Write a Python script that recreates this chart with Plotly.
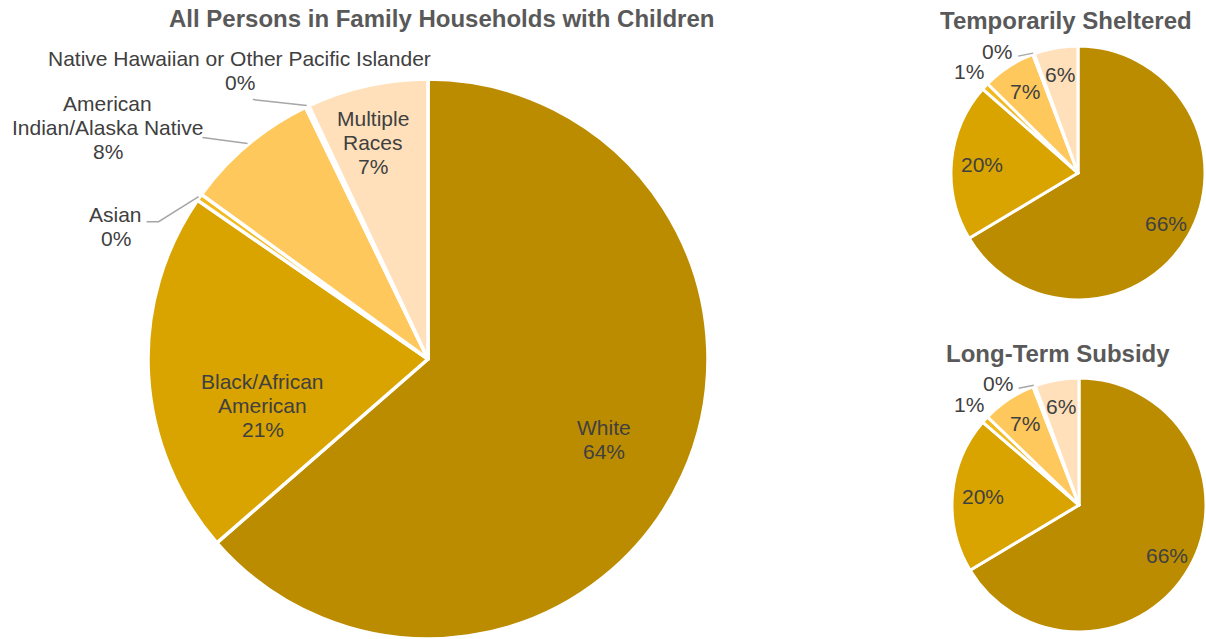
import math
import plotly.graph_objects as go

W, H = 1206, 639

# Race / ethnicity categories, in clockwise order from 12 o'clock
categories = [
    "White",
    "Black/African American",
    "Asian",
    "American Indian/Alaska Native",
    "Native Hawaiian or Other Pacific Islander",
    "Multiple Races",
]

# Share of persons (%) in each category
all_persons = [63.6, 21.0, 0.4, 7.8, 0.2, 7.0]
temporarily_sheltered = [66.4, 20.1, 0.9, 6.8, 0.2, 5.6]
long_term_subsidy = [66.4, 19.9, 0.9, 6.9, 0.3, 5.6]

titles = [
    "All Persons in Family Households with Children",
    "Temporarily Sheltered",
    "Long-Term Subsidy",
]

# ---- styling ----
colors = ["#BC8C00", "#D9A400", "#F2BA1E", "#FFC85C", "#FFD48E", "#FFE0BA"]
FONT = "Liberation Sans, Arial, sans-serif"
LABEL_COLOR = "#404040"
TITLE_COLOR = "#595959"
LEADER_COLOR = "#A6A6A6"
LABEL_SIZE = 21
TITLE_SIZE = 24
LINE_STEP = 24

name_lines = {
    "Black/African American": ["Black/African", "American"],
    "American Indian/Alaska Native": ["American", "Indian/Alaska Native"],
    "Multiple Races": ["Multiple", "Races"],
}

# pie geometry in pixels: centre x, centre y, radius
pies = [
    dict(values=all_persons, cx=428, cy=359, r=280, border=3.5, names=True,
         title=titles[0], title_xy=(441, 19),
         labels=[
             dict(kind="in", rf=0.69, d=(0, 0)),
             dict(kind="in", rf=0.62, d=(8, 37)),
             dict(kind="lead", path=[(-40, 25), (-52, 25)], d=(-83, 30)),
             dict(kind="lead", path=[(-45, -6)], d=(-140, -16)),
             dict(kind="lead", path=[(-54, -6)], d=(-67, -35)),
             dict(kind="in", rf=0.80, d=(-6, 2)),
         ]),
    dict(values=temporarily_sheltered, cx=1078, cy=173, r=127, border=3, names=False,
         title=titles[1], title_xy=(1066, 20),
         labels=[
             dict(kind="in", rf=0.80, d=(0, 0)),
             dict(kind="in", rf=0.76, d=(0, 0)),
             dict(kind="in", rf=1.17, d=(0, 0)),
             dict(kind="in", rf=0.77, d=(0, 0)),
             dict(kind="lead", path=[(-15, 3)], d=(-36, -2)),
             dict(kind="in", rf=0.79, d=(0, 0)),
         ]),
    dict(values=long_term_subsidy, cx=1079, cy=505, r=127, border=3, names=False,
         title=titles[2], title_xy=(1058, 353),
         labels=[
             dict(kind="in", rf=0.80, d=(0, 0)),
             dict(kind="in", rf=0.76, d=(0, 0)),
             dict(kind="in", rf=1.17, d=(0, 0)),
             dict(kind="in", rf=0.77, d=(0, 0)),
             dict(kind="lead", path=[(-15, 3)], d=(-36, -2)),
             dict(kind="in", rf=0.79, d=(0, 0)),
         ]),
]


def px(x):
    return x / W


def py(y):
    return 1 - y / H


def polar(cx, cy, r, frac):
    a = 2 * math.pi * frac
    return cx + r * math.sin(a), cy - r * math.cos(a)


fig = go.Figure()
annotations = []
shapes = []


def add_text(x, y, lines, size=LABEL_SIZE, color=LABEL_COLOR, bold=False):
    n = len(lines)
    for i, line in enumerate(lines):
        yy = y + LINE_STEP * (i - (n - 1) / 2)
        annotations.append(dict(
            x=px(x), y=py(yy), xref="paper", yref="paper",
            text=f"<b>{line}</b>" if bold else line,
            showarrow=False, xanchor="center", yanchor="middle",
            font=dict(family=FONT, size=size, color=color),
        ))


for p in pies:
    vals = p["values"]
    total = sum(vals)
    cx, cy, r = p["cx"], p["cy"], p["r"]
    fig.add_trace(go.Pie(
        labels=categories, values=vals, sort=False, direction="clockwise",
        rotation=0, textinfo="none", hole=0,
        marker=dict(colors=colors, line=dict(color="white", width=p["border"])),
        domain=dict(x=[max(0, px(cx - r)), min(1, px(cx + r))],
                    y=[max(0, py(cy + r)), min(1, py(cy - r))]),
        showlegend=False,
    ))

    cum = 0.0
    for name, v, spec in zip(categories, vals, p["labels"]):
        mid = (cum + v / 2) / total
        cum += v
        pct = f"{round(v / total * 100)}%"
        lines = (name_lines.get(name, [name]) if p["names"] else []) + [pct]
        if spec["kind"] == "in":
            x, y = polar(cx, cy, r * spec["rf"], mid)
            add_text(x + spec["d"][0], y + spec["d"][1], lines)
        else:
            ex, ey = polar(cx, cy, r + 1, mid)
            pts = [(ex, ey)] + [(ex + dx, ey + dy) for dx, dy in spec["path"]]
            path = "M " + " L ".join(f"{px(a):.5f},{py(b):.5f}" for a, b in pts)
            shapes.append(dict(type="path", path=path, xref="paper", yref="paper",
                               line=dict(color=LEADER_COLOR, width=1.5)))
            add_text(ex + spec["d"][0], ey + spec["d"][1], lines)

    tx, ty = p["title_xy"]
    add_text(tx, ty, [p["title"]], size=TITLE_SIZE, color=TITLE_COLOR, bold=True)

fig.update_layout(
    width=W, height=H,
    margin=dict(l=0, r=0, t=0, b=0),
    paper_bgcolor="white", plot_bgcolor="white",
    annotations=annotations, shapes=shapes,
    font=dict(family=FONT),
)

fig.write_html("out.html")
